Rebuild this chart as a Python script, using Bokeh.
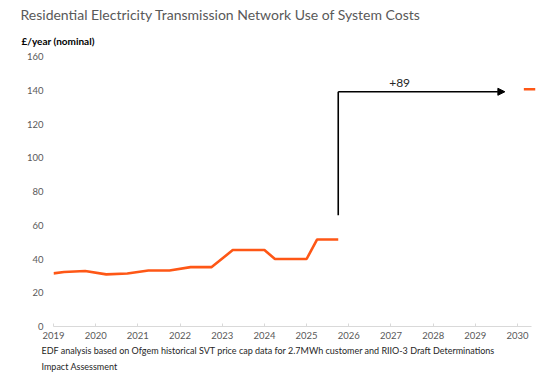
from bokeh.plotting import figure
from bokeh.models import Label, Range1d, FixedTicker, Arrow, NormalHead, Title
from bokeh.embed import file_html
from bokeh.resources import INLINE

# ---- data ----
period = [2019.0, 2019.25, 2019.75, 2020.25, 2020.75, 2021.25, 2021.75, 2022.25,
          2022.75, 2023.25, 2024.0, 2024.25, 2025.0, 2025.25, 2025.75]
costs = [31.5, 32.3, 32.9, 30.9, 31.4, 33.2, 33.2, 35.2,
         35.2, 45.3, 45.3, 40.0, 40.0, 51.6, 51.6]
forecast_period = [2030.15, 2030.42]
forecast_costs = [140.6, 140.6]
increase = 89
arrow_start_y = 66
arrow_x = 2025.75
arrow_end_x = 2029.7
years = list(range(2019, 2031))
y_ticks = [0, 20, 40, 60, 80, 100, 120, 140, 160]

title_text = "Residential Electricity Transmission Network Use of System Costs"
ylabel_text = "£/year (nominal)"
note1 = "EDF analysis based on Ofgem historical SVT price cap data for 2.7MWh customer and RIIO-3 Draft Determinations"
note2 = "Impact Assessment"

ORANGE = "#FE5716"
GREY = "#595959"
FONT = "Lato"

p = figure(width=548, height=373, output_backend="svg", toolbar_location=None,
           x_range=Range1d(2019, 2030.45), y_range=Range1d(0, 160),
           min_border_left=53, min_border_right=12, min_border_top=56, min_border_bottom=0)
p.outline_line_color = None
p.grid.grid_line_color = None
p.background_fill_color = "white"
p.border_fill_color = "white"

# titles above (first added = closest to the plot)
p.add_layout(Title(text=ylabel_text, align="left", offset=-32, text_font=FONT,
                   text_font_size="10px", text_font_style="bold", text_color="black",
                   standoff=19), "above")
p.add_layout(Title(text=title_text, align="left", offset=-33, text_font=FONT,
                   text_font_size="14px", text_font_style="normal", text_color=GREY,
                   standoff=1), "above")
# notes below
p.add_layout(Title(text=note1, align="left", offset=-12, text_font=FONT,
                   text_font_size="9px", text_font_style="normal", text_color="#262626",
                   standoff=3), "below")
p.add_layout(Title(text=note2, align="left", offset=-12, text_font=FONT,
                   text_font_size="9px", text_font_style="normal", text_color="#262626",
                   standoff=3), "below")

# axes
p.xaxis.ticker = FixedTicker(ticks=years)
p.xaxis.bounds = (2019, 2030.33)
p.xaxis.axis_line_color = "#D9D9D9"
p.xaxis.major_tick_line_color = "#D9D9D9"
p.xaxis.major_tick_in = 3
p.xaxis.major_tick_out = 0
p.xaxis.minor_tick_line_color = None
p.xaxis.major_label_standoff = 5
p.xaxis.major_label_text_color = GREY
p.xaxis.major_label_text_font = FONT
p.xaxis.major_label_text_font_size = "9.5px"

p.yaxis.ticker = FixedTicker(ticks=y_ticks)
p.yaxis.axis_line_color = None
p.yaxis.major_tick_line_color = None
p.yaxis.minor_tick_line_color = None
p.yaxis.major_tick_in = 0
p.yaxis.major_tick_out = 0
p.yaxis.major_label_standoff = 10
p.yaxis.major_label_text_color = GREY
p.yaxis.major_label_text_font = FONT
p.yaxis.major_label_text_font_size = "9.5px"

# series
p.line(period, costs, line_color=ORANGE, line_width=2.6)
p.line(forecast_period, forecast_costs, line_color=ORANGE, line_width=2.6)

# arrow annotation
arrow_top = forecast_costs[0] - 1.5
p.segment(x0=[arrow_x], y0=[arrow_start_y], x1=[arrow_x], y1=[arrow_top],
          line_color="black", line_width=1.6)
p.add_layout(Arrow(end=NormalHead(size=7, fill_color="black", line_color="black"),
                   x_start=arrow_x, y_start=arrow_top, x_end=arrow_end_x, y_end=arrow_top,
                   line_color="black", line_width=1.6))
p.add_layout(Label(x=(arrow_x + arrow_end_x) / 2 - 0.52, y=arrow_top + 3, text=f"+{increase}",
                   text_font=FONT, text_font_size="12px", text_color="#262626",
                   text_align="center", text_baseline="bottom"))

open("out.html", "w").write(file_html(p, INLINE))
